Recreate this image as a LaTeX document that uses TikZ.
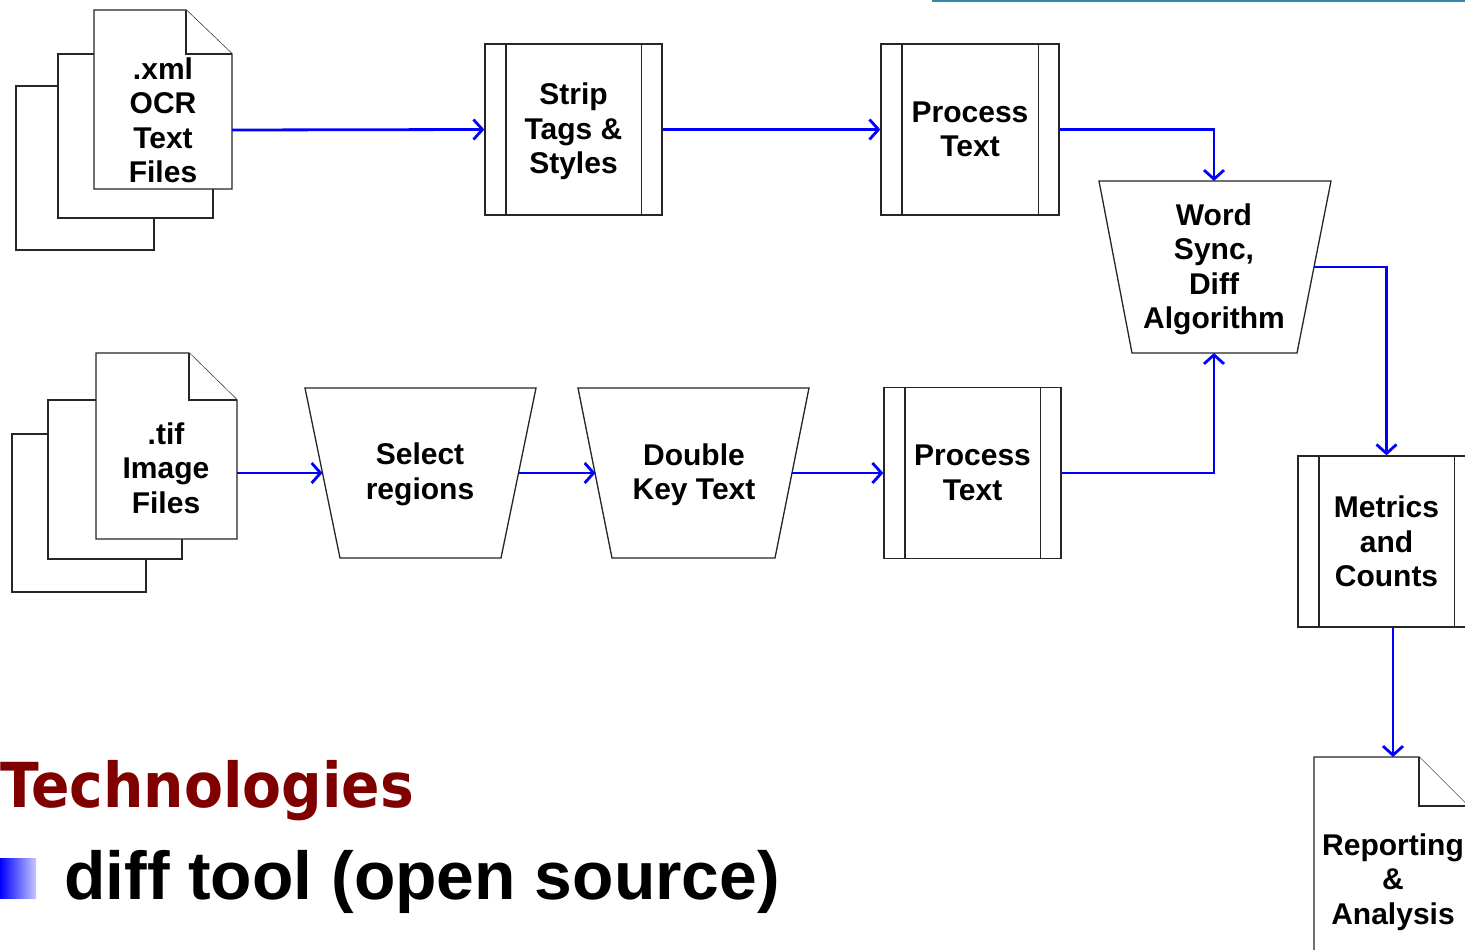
\documentclass[tikz,border=0pt]{standalone}
\usepackage{fontspec}
\setmainfont{Liberation Sans}
\newfontfamily\techfont{DejaVu Sans}
\usetikzlibrary{arrows.meta}
\definecolor{flowblue}{rgb}{0,0,1}
\definecolor{techred}{rgb}{0.5,0,0}
\definecolor{topteal}{RGB}{58,135,165}
\begin{document}
\begin{tikzpicture}[x=1pt,y=-1pt,
  shp/.style={draw=black!85, line width=1.3pt, fill=white},
  lbl/.style={font=\fontsize{30}{34.5}\selectfont\bfseries, align=center, inner sep=0pt},
  procbox/.style={shp, rectangle, minimum width=177pt, minimum height=171pt, inner sep=0pt,
    font=\fontsize{30}{34.5}\selectfont\bfseries, align=center},
  flow/.style={draw=flowblue, line width=2.8pt, -{Straight Barb[length=9pt,width=20pt]}}]
\clip (0,0) rectangle (1465,950);
\fill[white] (0,0) rectangle (1465,950);
% top rule
\draw[topteal, line width=3pt] (932,1) -- (1466,1);

% .xml stack
\draw[shp] (16,86) rectangle (154,250);
\draw[shp] (58,54) rectangle (213,218);
\draw[shp] (94,10) -- (186,10) -- (232,54) -- (232,189) -- (94,189) -- cycle;
\draw[shp] (186,10) -- (186,54) -- (232,54);
\node[lbl] (xml) at (163,120.5) {.xml\\OCR\\Text\\Files};
\coordinate (xmlE) at (232,130);

% .tif stack
\draw[shp] (12,434) rectangle (146,592);
\draw[shp] (48,400) rectangle (182,559);
\draw[shp] (96,353) -- (189,353) -- (237,400) -- (237,539) -- (96,539) -- cycle;
\draw[shp] (189,353) -- (189,400) -- (237,400);
\node[lbl] (tif) at (166,468) {.tif\\Image\\Files};
\coordinate (tifE) at (237,473);

% process boxes
\node[procbox] (strip) at (573.5,129.5) {};
\node[lbl] (striptxt) at (573.5,131.5) {Strip\\Tags \&\\Styles};
\node[procbox, minimum width=178pt] (ptop) at (970,129.5) {Process\\Text};
\node[procbox] (pbot) at (972.5,473) {Process\\Text};
\node[procbox] (metrics) at (1386.5,541.5) {Metrics\\and\\Counts};
\foreach \n in {strip,ptop,pbot,metrics}{
  \draw[black!85, line width=1.3pt] ([xshift=21.5pt]\n.north west) -- ([xshift=21.5pt]\n.south west);
  \draw[black!85, line width=1.3pt] ([xshift=-21.5pt]\n.north east) -- ([xshift=-21.5pt]\n.south east);
}

% manual operation trapezoids
\draw[shp] (1099,181) -- (1331,181) -- (1297,353) -- (1132,353) -- cycle;
\node[lbl] (ws) at (1214,269.5) {Word\\Sync,\\Diff\\Algorithm};
\coordinate (wsN) at (1214,181);
\coordinate (wsS) at (1214,353);
\coordinate (wsE) at (1314,267);

\draw[shp] (305,388) -- (536,388) -- (501,558) -- (340,558) -- cycle;
\node[lbl] (sel) at (420,474.5) {Select\\regions};
\coordinate (selW) at (322.5,473);
\coordinate (selE) at (518.5,473);

\draw[shp] (578,388) -- (809,388) -- (775,558) -- (612,558) -- cycle;
\node[lbl] (dbl) at (694,474.5) {Double\\Key Text};
\coordinate (dblW) at (595.5,473);
\coordinate (dblE) at (792,473);

% reporting document
\draw[shp] (1314,960) -- (1314,757) -- (1419,757) -- (1468,806) -- (1468,960);
\draw[shp] (1419,757) -- (1419,806) -- (1468,806);
\node[lbl] (rep) at (1393,882) {Reporting\\\&\\Analysis};
\coordinate (repN) at (1393,757);
\coordinate (metS) at (1393,627);

% connectors
\draw[flow] (xmlE) -- (strip.west);
\draw[flow] (strip.east) -- (ptop.west);
\draw[flow] (ptop.east) -| (wsN);
\draw[flow] (tifE) -- (selW);
\draw[flow] (selE) -- (dblW);
\draw[flow] (dblE) -- (pbot.west);
\draw[flow] (pbot.east) -| (wsS);
\draw[flow] (wsE) -| (metrics.north);
\draw[flow] (metS) -- (repN);

% text
\node[anchor=base west, inner sep=0pt, text=techred, font=\techfont\fontsize{62}{70}\selectfont\bfseries] (tech) at (0,807) {\scalebox{0.915}[1]{Technologies}};
\shade[left color=blue, right color=blue!22] (0,858) rectangle (36,898);
\node[anchor=base west, inner sep=0pt, font=\fontsize{67.8}{75}\selectfont\bfseries] (diff) at (64,899) {diff tool (open source)};
\end{tikzpicture}
\end{document}
